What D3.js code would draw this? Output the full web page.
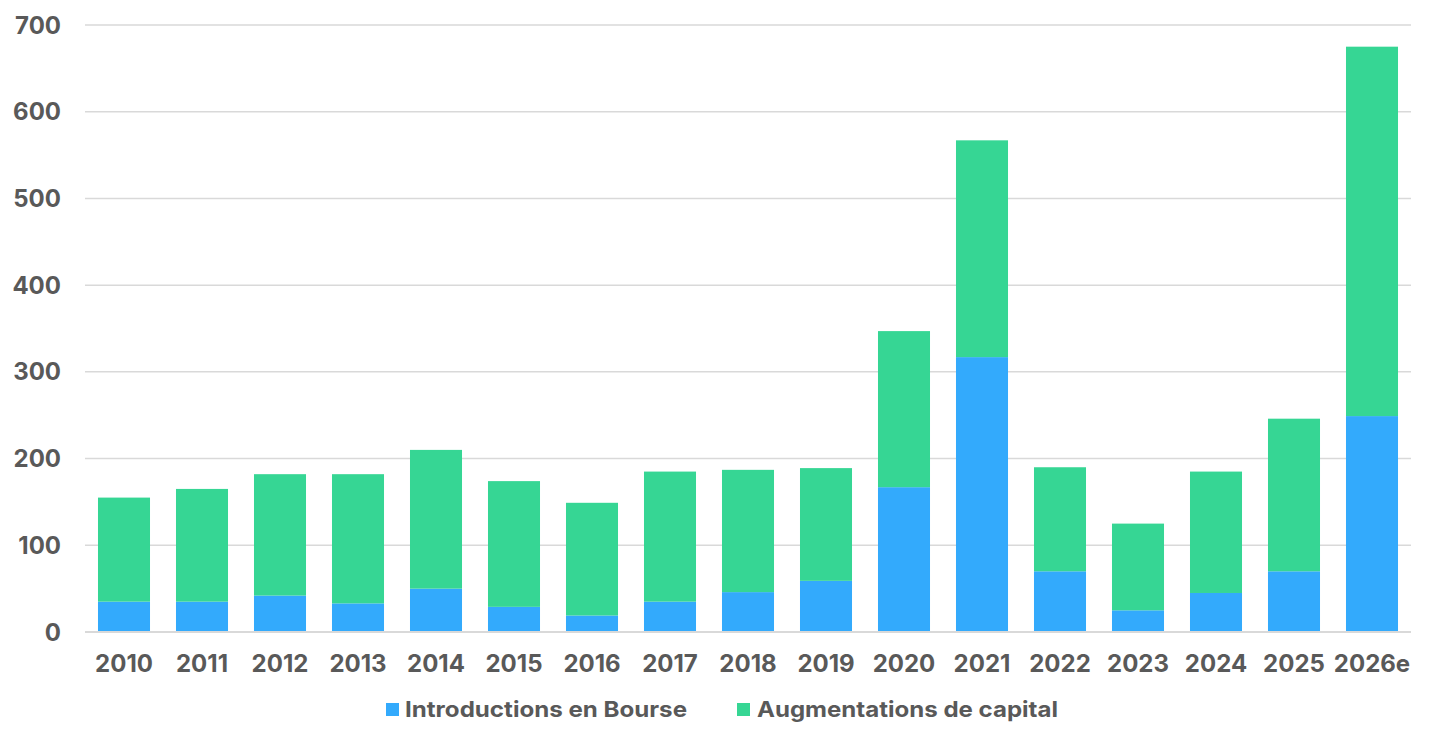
<!DOCTYPE html>
<html>
<head>
<meta charset="utf-8">
<script src="https://cdn.jsdelivr.net/npm/d3@7"></script>
<style>
  html, body { margin: 0; padding: 0; background: #fff; }
  svg { display: block; }
  text { font-family: Inter, "Liberation Sans", sans-serif; font-weight: 700; fill: #595959; }
</style>
</head>
<body>
<svg id="chart" width="1434" height="742"></svg>
<script>
const years = ["2010","2011","2012","2013","2014","2015","2016","2017","2018","2019","2020","2021","2022","2023","2024","2025","2026e"];
const ipo = [35, 35, 42, 33, 50, 29, 19, 35, 46, 59, 167, 317, 70, 25, 45, 70, 249];
const totals = [155, 165, 182, 182, 210, 174, 149, 185, 187, 189, 347, 567, 190, 125, 185, 246, 675];
const capital = totals.map((t, i) => t - ipo[i]);
const yTicks = [0, 100, 200, 300, 400, 500, 600, 700];
const seriesNames = ["Introductions en Bourse", "Augmentations de capital"];
const colors = ["#33AAFC", "#36D694"];

const svg = d3.select("#chart");
const margin = { left: 85, right: 23, top: 25, bottom: 110 };
const W = 1434, H = 742;
const x = d3.scaleBand().domain(years).range([margin.left, W - margin.right]).paddingInner(0.333).paddingOuter(0.1665);
const y = d3.scaleLinear().domain([0, 700]).range([632, 25]);

// gridlines
svg.append("g").selectAll("line").data(yTicks).join("line")
  .attr("x1", margin.left).attr("x2", W - margin.right)
  .attr("y1", d => y(d)).attr("y2", d => y(d))
  .attr("stroke", "#D9D9D9").attr("stroke-width", 1.5);

// y labels
svg.append("g").selectAll("text").data(yTicks).join("text")
  .attr("x", 61).attr("y", d => y(d)).attr("dy", "0.36em")
  .attr("text-anchor", "end").attr("font-size", 24)
  .text(d => d);

// stacked bars
const rows = years.map((yr, i) => ({ year: yr, ipo: ipo[i], capital: capital[i] }));
const stack = d3.stack().keys(["ipo", "capital"])(rows);
svg.append("g").selectAll("g").data(stack).join("g")
  .attr("fill", (d, i) => colors[i])
  .selectAll("rect").data(d => d).join("rect")
  .attr("x", d => x(d.data.year)).attr("width", x.bandwidth())
  .attr("y", d => y(d[1])).attr("height", d => y(d[0]) - y(d[1]));

// baseline
svg.append("line").attr("x1", margin.left).attr("x2", W - margin.right)
  .attr("y1", y(0)).attr("y2", y(0)).attr("stroke", "#D9D9D9").attr("stroke-width", 2);

// x labels
svg.append("g").selectAll("text").data(years).join("text")
  .attr("x", d => x(d) + x.bandwidth() / 2).attr("y", 663).attr("dy", "0.36em")
  .attr("text-anchor", "middle").attr("font-size", 24)
  .text(d => d);

// legend
const legendItems = [
  { name: seriesNames[0], color: colors[0], sx: 386, tx: 405, len: 282 },
  { name: seriesNames[1], color: colors[1], sx: 737, tx: 757, len: 301 }
];
const lg = svg.append("g");
lg.selectAll("rect").data(legendItems).join("rect")
  .attr("x", d => d.sx).attr("y", 703).attr("width", 13).attr("height", 13)
  .attr("fill", d => d.color);
lg.selectAll("text").data(legendItems).join("text")
  .attr("x", d => d.tx).attr("y", 709).attr("dy", "0.36em")
  .attr("font-size", 22)
  .attr("textLength", d => d.len).attr("lengthAdjust", "spacingAndGlyphs")
  .text(d => d.name);
</script>
</body>
</html>
